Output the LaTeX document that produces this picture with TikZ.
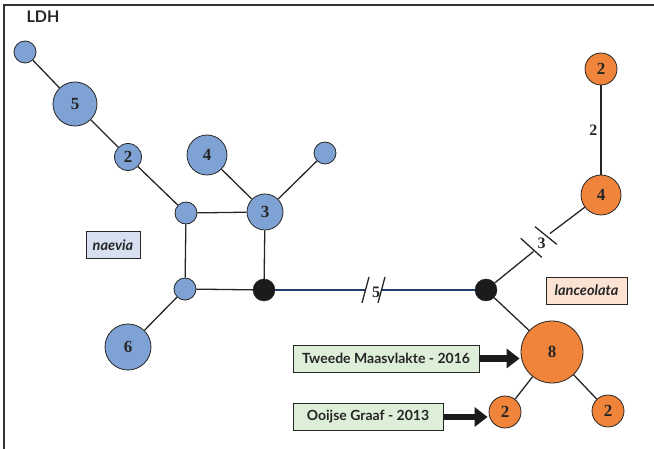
\documentclass[tikz,border=0pt]{standalone}
\usepackage{fontspec}
\newfontfamily\labfont{Lato}
\newfontfamily\numfont{Liberation Serif}
\usetikzlibrary{calc,arrows.meta}
\definecolor{bluec}{HTML}{7FA2D4}
\definecolor{orangec}{HTML}{F0843A}
\definecolor{blackc}{HTML}{1C1A1C}
\definecolor{edgec}{HTML}{262626}
\definecolor{linkc}{HTML}{1F3F6E}
\definecolor{naeviafill}{HTML}{D6E0F0}
\definecolor{lancfill}{HTML}{FBE2D3}
\definecolor{greenfill}{HTML}{DDEFD9}
\definecolor{framec}{HTML}{333333}
\tikzset{
  hap/.style={circle, draw=edgec, line width=0.8pt, inner sep=0pt, text=edgec,
    font=\numfont\bfseries\fontsize{17}{17}\selectfont},
  bn/.style={hap, fill=bluec},
  on/.style={hap, fill=orangec},
  kn/.style={circle, draw=blackc, fill=blackc, inner sep=0pt, minimum size=22pt},
  edge/.style={draw=edgec, line width=1.3pt},
  link/.style={draw=linkc, line width=1.3pt},
  tick/.style={draw=edgec, line width=1.3pt},
  elab/.style={font=\numfont\bfseries\fontsize{16}{16}\selectfont, text=edgec, inner sep=1pt},
  sp/.style={draw=edgec, line width=0.9pt, inner sep=0pt, minimum height=27pt,
    text=edgec, font=\labfont\bfseries\itshape\fontsize{14.5}{14.5}\selectfont},
  site/.style={draw=edgec, line width=0.9pt, fill=greenfill, inner sep=0pt, minimum height=27pt,
    text=edgec, font=\labfont\bfseries\fontsize{14}{14}\selectfont},
  bigarrow/.style={draw=blackc, line width=6.5pt, -{Triangle[length=13pt,width=19pt]}, shorten >=1pt}
}
\begin{document}
\begin{tikzpicture}[x=1pt,y=-1pt]
\useasboundingbox (0,0) rectangle (654,449);
% frame
\draw[framec, line width=1.5pt] (4,449) -- (4,5) -- (654,5);
\node[font=\labfont\bfseries\fontsize{16}{16}\selectfont, text=edgec] (ldh) at (43,17) {LDH};
% blue nodes
\node[bn, minimum size=22pt] (a) at (25,52) {};
\node[bn, minimum size=44pt] (n5) at (75,104) {5};
\node[bn, minimum size=27pt] (n2) at (128,157) {2};
\node[bn, minimum size=22pt] (j1) at (186,213) {};
\node[bn, minimum size=40pt] (n4) at (207,155) {4};
\node[bn, minimum size=36pt] (n3) at (265,212) {3};
\node[bn, minimum size=22pt] (s) at (325,153) {};
\node[bn, minimum size=22pt] (j2) at (185,289) {};
\node[kn] (k1) at (264,290) {};
\node[bn, minimum size=46pt] (n6) at (128,347) {6};
\node[kn] (k2) at (486,290) {};
% orange nodes
\node[on, minimum size=32pt] (o2) at (601,69) {2};
\node[on, minimum size=40pt] (o4) at (601,195) {4};
\node[on, minimum size=62pt] (o8) at (552,352) {8};
\node[on, minimum size=32pt] (o2a) at (505,412) {2};
\node[on, minimum size=32pt] (o2b) at (608,411) {2};
% edges
\draw[edge] (a) -- (n5);
\draw[edge] (n5) -- (n2);
\draw[edge] (n2) -- (j1);
\draw[edge] (j1) -- (n3);
\draw[edge] (n4) -- (n3);
\draw[edge] (n3) -- (s);
\draw[edge] (j1) -- (j2);
\draw[edge] (j2) -- (k1);
\draw[edge] (n3) -- (k1);
\draw[edge] (j2) -- (n6);
\draw[edge] (o2) -- node[elab, left=2pt, pos=0.5] (l2) {2} (o4);
\draw[edge] (k2) -- (o8);
\draw[edge] (o8) -- (o2a);
\draw[edge] (o8) -- (o2b);
% edge k1-k2 with break
\coordinate (t5a) at (365.5,290);
\coordinate (t5b) at (381.5,290);
\draw[link] (k1) -- (t5a);
\draw[link] (t5b) -- (k2);
\draw[tick] ($(t5a)+(-3.5,13)$) -- ($(t5a)+(3.5,-13)$);
\draw[tick] ($(t5b)+(-3.5,13)$) -- ($(t5b)+(3.5,-13)$);
\node[elab] (l5) at (376,292) {5};
% edge k2-o4 with break
\coordinate (e1) at (533.5,251.5);
\coordinate (e2) at (550,233.5);
\draw[edge] (k2) -- (e1);
\draw[edge] (e2) -- (o4);
\draw[tick] (520.7,238.3) -- (541.7,257.3);
\draw[tick] (535,226.7) -- (556.7,244.3);
\node[elab] (l3) at (541.5,243) {3};
% species labels
\node[sp, fill=naeviafill, minimum width=54pt] (nae) at (113,245) {naevia};
\node[sp, fill=lancfill, minimum width=81pt] (lan) at (586.5,290.5) {lanceolata};
% site labels
\node[site, minimum width=186pt] (tw) at (386,358.5) {Tweede Maasvlakte - 2016};
\node[site, minimum width=150pt] (oo) at (368,417) {Ooijse Graaf - 2013};
\draw[bigarrow] (tw.east) -- (tw.east -| o8.west);
\draw[bigarrow] (oo.east) -- (oo.east -| o2a.west);
\end{tikzpicture}
\end{document}
